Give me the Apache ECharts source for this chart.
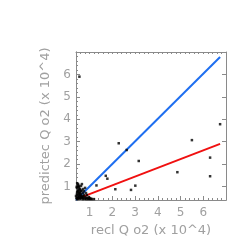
<!DOCTYPE html>
<html><head><meta charset="utf-8">
<script src="https://cdn.jsdelivr.net/npm/echarts@6/dist/echarts.min.js"></script>
<style>html,body{margin:0;padding:0;background:#fff}#c{width:249px;height:249px}</style>
</head><body><div id="c"></div>
<script>
const xName = 'recl Q o2 (x 10^4)';
const yName = 'predictec Q o2 (x 10^4)';
const tickLabels = [1, 2, 3, 4, 5, 6];
const axisMin = 0.4, axisMax = 7.0;
const pointsX = [0.55,2.28,2.63,3.16,5.50,6.74,6.30,6.30,4.86,1.71,1.78,1.30,2.13,2.82,3.01,
  0.44,0.49,0.53,0.58,0.62,0.66,0.53,0.49,0.44,0.58,0.62,0.71,0.75,0.80,0.84,0.93,1.02,1.10,1.19,
  0.53,0.49,0.62,0.71,0.66,0.44,0.40,0.75,0.84,0.80,0.88,0.97,0.58,0.71,0.49,
  0.42,0.46,0.51,0.55,0.60,0.64,0.68,0.73,0.47,0.52,0.57,0.45,0.50,0.56,0.61,0.43,0.48,0.54,
  0.59,0.65,0.70,0.78,0.86,0.90,0.95,1.00,1.06,0.45,0.51];
const pointsY = [5.90,2.93,2.63,2.14,3.07,3.78,2.29,1.46,1.64,1.48,1.35,1.05,0.88,0.85,1.04,
  0.44,0.53,0.58,0.62,0.58,0.49,0.71,0.85,0.94,0.89,0.80,0.71,0.62,0.53,0.44,0.44,0.44,0.44,0.44,
  1.03,1.11,1.03,0.89,1.11,0.67,0.58,0.80,0.71,0.94,0.62,0.53,0.49,0.44,0.76,
  0.50,0.47,0.45,0.50,0.46,0.55,0.52,0.48,0.62,0.66,0.70,0.76,0.80,0.84,0.66,0.99,1.05,0.93,
  0.76,0.82,0.57,0.46,0.50,0.48,0.46,0.48,0.46,1.15,0.98];
const blueLineX = [0.4, 6.74];
const blueLineY = [0.4, 6.78];
const redLineX = [0.45, 6.74];
const redLineY = [0.45, 2.90];

const minorTicks = [];
for (let v = 0.6; v < axisMax - 0.01; v += 0.2) minorTicks.push(+v.toFixed(1));

const grey = '#8a8a8a';
const textGrey = '#a0a0a0';
const font = 'DejaVu Sans';
function mkAxis(pos, opts) {
  return Object.assign({
    type: 'value', position: pos, min: axisMin, max: axisMax,
    axisLine: {show: true, onZero: false, lineStyle: {color: grey, width: 1}},
    splitLine: {show: false},
    axisLabel: {show: false},
    axisTick: {show: true, inside: true, length: 2, lineStyle: {color: grey}, customValues: minorTicks}
  }, opts || {});
}
const labelStyle = {show: true, color: textGrey, fontSize: 12, fontFamily: font, customValues: tickLabels};
const majorTick = {show: true, inside: true, length: 4, lineStyle: {color: grey}, customValues: tickLabels};

const chart = echarts.init(document.getElementById('c'), null, {renderer: 'canvas'});
chart.setOption({
  animation: false,
  grid: {left: 76, right: 23, top: 52, bottom: 49, containLabel: false},
  xAxis: [
    mkAxis('bottom', {name: xName, nameLocation: 'middle', nameGap: 23,
      nameTextStyle: {color: textGrey, fontSize: 13, fontFamily: font},
      axisLabel: Object.assign({margin: 7}, labelStyle), axisTick: majorTick}),
    mkAxis('bottom'),
    mkAxis('top')
  ],
  yAxis: [
    mkAxis('left', {name: yName, nameLocation: 'middle', nameGap: 19,
      nameTextStyle: {color: textGrey, fontSize: 13, fontFamily: font},
      axisLabel: Object.assign({margin: 5}, labelStyle), axisTick: majorTick}),
    mkAxis('left'),
    mkAxis('right', {axisTick: {show: true, inside: true, length: 4, lineStyle: {color: grey}, customValues: tickLabels}})
  ],
  series: [
    {type: 'line', data: blueLineX.map((x, i) => [x, blueLineY[i]]), symbol: 'none',
      lineStyle: {color: '#1f6ff0', width: 2}, z: 3},
    {type: 'line', data: redLineX.map((x, i) => [x, redLineY[i]]), symbol: 'none',
      lineStyle: {color: '#f01010', width: 2}, z: 3},
    {type: 'scatter', data: pointsX.map((x, i) => [x, pointsY[i]]), symbol: 'rect', symbolSize: 2.5,
      itemStyle: {color: '#000'}, z: 4}
  ]
});
</script></body></html>
